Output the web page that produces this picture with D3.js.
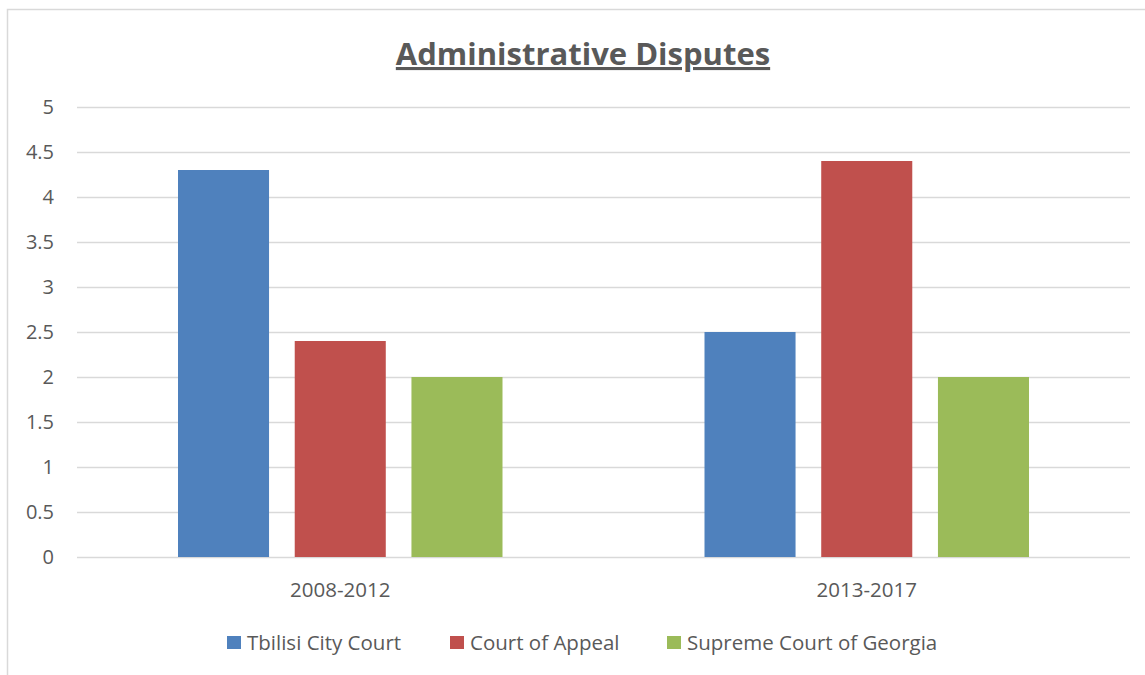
<!DOCTYPE html>
<html><head><meta charset="utf-8">
<script src="https://cdn.jsdelivr.net/npm/d3@7"></script>
<style>body{margin:0;background:#fff}svg{display:block}</style>
</head><body>
<script>
const categories = ["2008-2012", "2013-2017"];
const seriesNames = ["Tbilisi City Court", "Court of Appeal", "Supreme Court of Georgia"];
const tbilisi = [4.3, 2.5];
const appeal = [2.4, 4.4];
const supreme = [2.0, 2.0];
const yTicks = [0, 0.5, 1, 1.5, 2, 2.5, 3, 3.5, 4, 4.5, 5];
const colors = ["#4f81bd", "#c0504d", "#9bbb59"];
const seriesValues = [tbilisi, appeal, supreme];

const W = 1145, H = 675;
const font = "'Open Sans', 'Liberation Sans', sans-serif";
const txt = "#595959";
const svg = d3.select("body").append("svg").attr("width", W).attr("height", H);

svg.append("rect").attr("x", 7.5).attr("y", 9.5).attr("width", W + 10).attr("height", H + 10)
  .attr("fill", "#fff").attr("stroke", "#d9d9d9").attr("stroke-width", 1.5);

const plot = {left: 77, right: 1130, top: 107, bottom: 557};
const x0 = d3.scaleBand().domain(categories).range([plot.left, plot.right]).paddingInner(0).paddingOuter(0);
const x1 = d3.scaleBand().domain(seriesNames).range([101, x0.bandwidth() - 101]).paddingInner(0.22).paddingOuter(0);
const y = d3.scaleLinear().domain([0, 5]).range([plot.bottom, plot.top]);

// gridlines
svg.append("g").selectAll("line").data(yTicks).join("line")
  .attr("x1", plot.left).attr("x2", plot.right)
  .attr("y1", d => Math.round(y(d)) + 0.5).attr("y2", d => Math.round(y(d)) + 0.5)
  .attr("stroke", "#d9d9d9").attr("stroke-width", 1.3);

// y tick labels
svg.append("g").selectAll("text").data(yTicks).join("text")
  .attr("x", 54).attr("y", d => y(d)).attr("dy", "0.36em")
  .attr("text-anchor", "end").attr("font-family", font).attr("font-size", 20).attr("fill", txt)
  .text(d => d);

// bars
const groups = svg.append("g").selectAll("g").data(categories).join("g")
  .attr("transform", c => `translate(${x0(c)},0)`);
groups.selectAll("rect").data((c, ci) => seriesNames.map((s, si) => ({s, si, v: seriesValues[si][ci]})))
  .join("rect")
  .attr("x", d => x1(d.s)).attr("width", x1.bandwidth())
  .attr("y", d => y(d.v)).attr("height", d => y(0) - y(d.v))
  .attr("fill", d => colors[d.si]);

// x labels
svg.append("g").selectAll("text").data(categories).join("text")
  .attr("x", c => x0(c) + x0.bandwidth() / 2).attr("y", 597)
  .attr("text-anchor", "middle").attr("font-family", font).attr("font-size", 20.5).attr("fill", txt)
  .text(c => c);

// title
svg.append("text").attr("x", 583).attr("y", 65).attr("text-anchor", "middle")
  .attr("font-family", font).attr("font-size", 31).attr("font-weight", "bold").attr("fill", txt)
  .attr("text-decoration", "underline")
  .text("Administrative Disputes");

// legend
const legendX = [227, 450, 667];
const lg = svg.append("g").selectAll("g").data(seriesNames).join("g")
  .attr("transform", (d, i) => `translate(${legendX[i]},636)`);
lg.append("rect").attr("width", 14).attr("height", 13).attr("fill", (d, i) => colors[i]);
lg.append("text").attr("x", 20).attr("y", 13.5)
  .attr("font-family", font).attr("font-size", 20.5).attr("fill", txt).text(d => d);
</script>
</body></html>
